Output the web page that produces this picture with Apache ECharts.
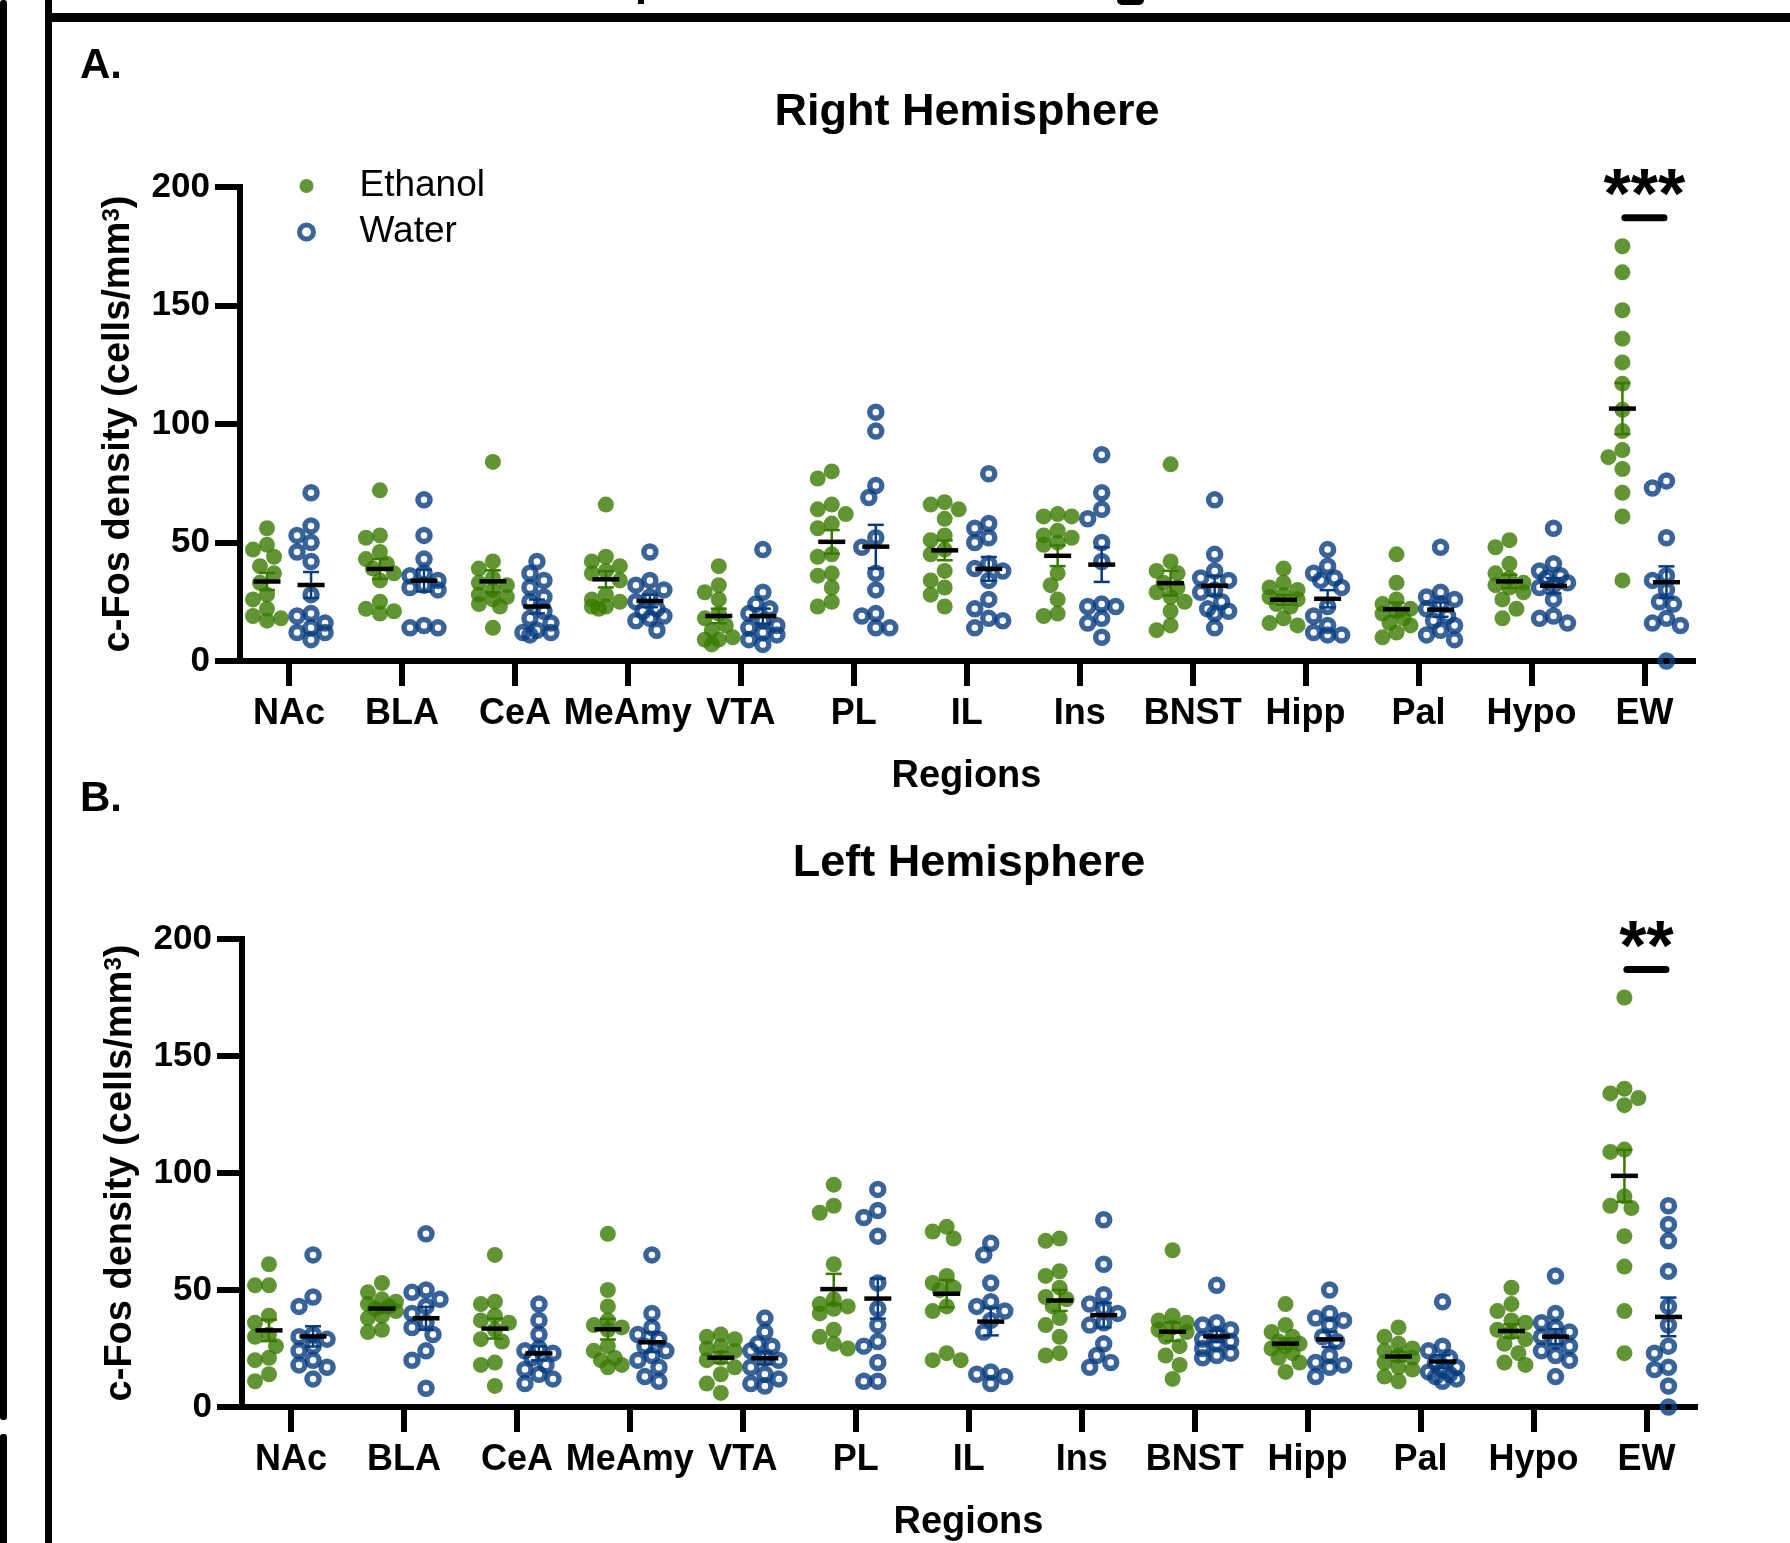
<!DOCTYPE html>
<html>
<head>
<meta charset="utf-8">
<script src="https://cdn.jsdelivr.net/npm/echarts@6/dist/echarts.min.js"></script>
<style>html,body{margin:0;padding:0;background:#fff;}</style>
</head>
<body>
<div id="main" style="width:1790px;height:1543px;"></div>
<script>
// regions on the x axis
var regions = ['NAc', 'BLA', 'CeA', 'MeAmy', 'VTA', 'PL', 'IL', 'Ins', 'BNST', 'Hipp', 'Pal', 'Hypo', 'EW'];

// c-Fos density per animal, right hemisphere
var rightEthanol = [
    [56, 49, 47, 44, 40, 37, 33, 28, 26, 22, 19, 18, 17],
    [72, 53, 52, 46, 43, 41, 39, 37, 34, 25, 22, 21, 20],
    [84, 42, 39, 35, 33, 32, 30, 28, 27, 26, 24, 23, 14],
    [66, 44, 42, 40, 38, 37, 34, 28, 26, 25, 23, 23, 22],
    [40, 32, 29, 26, 20, 18, 15, 13, 10, 9, 9, 7],
    [80, 77, 66, 64, 62, 58, 56, 45, 44, 37, 36, 31, 25, 23],
    [67, 66, 64, 60, 53, 51, 47, 45, 38, 34, 31, 28, 23],
    [62, 61, 61, 55, 53, 52, 50, 49, 37, 32, 26, 20, 19],
    [83, 42, 37, 38, 33, 31, 29, 27, 25, 21, 15, 13],
    [39, 33, 31, 30, 28, 27, 26, 24, 23, 18, 16, 15],
    [45, 33, 26, 24, 22, 21, 20, 18, 16, 15, 12, 10],
    [51, 48, 41, 37, 35, 33, 32, 31, 29, 26, 22, 18],
    [175, 164, 148, 136, 126, 117, 106, 97, 89, 86, 81, 71, 61, 34]
];
var rightWater = [
    [71, 57, 53, 50, 46, 42, 28, 20, 19, 16, 14, 12, 12, 9],
    [68, 53, 43, 37, 36, 34, 32, 31, 30, 15, 14, 14],
    [42, 37, 34, 31, 27, 25, 21, 18, 16, 13, 12, 12, 11],
    [46, 34, 32, 30, 27, 25, 22, 21, 19, 18, 17, 13],
    [47, 29, 24, 22, 20, 17, 15, 14, 12, 11, 9, 7],
    [105, 97, 74, 69, 52, 48, 37, 30, 20, 19, 14, 14],
    [79, 58, 56, 52, 50, 41, 39, 38, 34, 26, 22, 18, 17, 14],
    [87, 71, 64, 60, 50, 42, 24, 23, 23, 18, 16, 10],
    [68, 45, 38, 35, 34, 30, 29, 25, 22, 21, 20, 14],
    [47, 40, 37, 35, 34, 31, 23, 19, 15, 12, 11, 11],
    [48, 29, 27, 26, 24, 22, 19, 17, 15, 13, 11, 9],
    [56, 41, 38, 36, 35, 33, 32, 31, 26, 19, 18, 16],
    [76, 73, 52, 36, 34, 30, 25, 24, 18, 16, 15, 0]
];

// left hemisphere
var leftEthanol = [
    [61, 52, 52, 39, 36, 31, 30, 26, 21, 20, 14, 11],
    [53, 49, 46, 45, 44, 43, 42, 41, 39, 38, 33, 32],
    [65, 45, 44, 39, 37, 36, 33, 29, 28, 19, 18, 9],
    [74, 50, 43, 37, 35, 34, 33, 26, 24, 21, 20, 17, 18],
    [31, 30, 29, 26, 25, 24, 21, 20, 17, 14, 10, 6],
    [95, 86, 83, 61, 46, 44, 43, 42, 40, 33, 30, 27, 25],
    [77, 75, 72, 56, 53, 51, 50, 43, 41, 23, 20, 20],
    [72, 71, 58, 56, 51, 47, 46, 43, 38, 35, 30, 23, 22],
    [67, 39, 37, 36, 34, 33, 32, 30, 26, 22, 18, 12],
    [44, 35, 32, 30, 28, 27, 26, 25, 23, 21, 19, 15],
    [34, 30, 27, 25, 24, 22, 21, 19, 17, 16, 13, 11],
    [51, 44, 41, 37, 36, 33, 32, 29, 27, 23, 19, 18],
    [175, 136, 134, 132, 129, 110, 109, 90, 86, 85, 73, 60, 41, 23]
];
var leftWater = [
    [65, 47, 43, 31, 30, 29, 26, 24, 20, 18, 17, 12],
    [74, 50, 49, 46, 43, 40, 36, 34, 31, 24, 20, 8],
    [44, 37, 31, 25, 24, 23, 21, 18, 16, 14, 12, 10],
    [65, 40, 34, 31, 29, 26, 24, 22, 20, 17, 13, 11],
    [38, 32, 27, 26, 24, 21, 20, 17, 14, 12, 10, 9],
    [93, 84, 81, 73, 53, 42, 35, 28, 26, 19, 11, 11],
    [70, 65, 53, 45, 43, 41, 37, 32, 15, 14, 13, 10],
    [80, 61, 48, 44, 42, 40, 36, 35, 27, 22, 19, 17],
    [52, 36, 35, 33, 31, 29, 28, 27, 25, 23, 22, 21],
    [50, 40, 38, 37, 35, 30, 28, 22, 19, 18, 17, 13],
    [45, 26, 24, 21, 19, 17, 16, 15, 14, 13, 12, 11],
    [56, 40, 36, 34, 32, 30, 28, 26, 24, 22, 20, 13],
    [86, 78, 71, 58, 43, 35, 26, 23, 17, 16, 9, 0]
];

// significance marks (right, left)
var sigLabels = ['***', '**'];
var sigRegion = 'EW';
var sigLevel = 187;

var GREEN = '#3a7a00';
var BLUE = '#083c80';
var FONT = 'Liberation Sans, Arial, Helvetica, sans-serif';
var XMIN = -0.434, XMAX = 12.43, SIDE = 0.195;
var grids = [
    {left: 240, top: 187, width: 1453, height: 474},
    {left: 242, top: 939, width: 1453, height: 474}
];
var pxX = 1453 / (XMAX - XMIN);
var pxY = 474 / 200;

// spread overlapping dots sideways like a scatter dot plot
function swarm(vals) {
    var placed = [], res = [];
    var order = vals.map(function (v, i) { return i; }).sort(function (a, b) { return vals[b] - vals[a]; });
    var step = 7, minD = 13;
    var cands = [0, -step, step, -2 * step, 2 * step];
    order.forEach(function (i) {
        var y = vals[i] * pxY, best = 0, bestD = -1;
        for (var k = 0; k < cands.length; k++) {
            var d = Infinity;
            placed.forEach(function (p) {
                var dd = Math.sqrt((p.x - cands[k]) * (p.x - cands[k]) + (p.y - y) * (p.y - y));
                if (dd < d) d = dd;
            });
            if (d >= minD) { best = cands[k]; break; }
            if (d > bestD) { bestD = d; best = cands[k]; }
        }
        placed.push({x: best, y: y});
        res[i] = best;
    });
    return res;
}

function meanSem(vals) {
    var n = vals.length, sum = 0, ss = 0;
    vals.forEach(function (v) { sum += v; });
    var m = sum / n;
    vals.forEach(function (v) { ss += (v - m) * (v - m); });
    return [m, Math.sqrt(ss / (n - 1)) / Math.sqrt(n)];
}

function dots(groups, side) {
    var out = [];
    groups.forEach(function (vals, i) {
        var off = swarm(vals);
        vals.forEach(function (v, j) {
            out.push([i + side + off[j] / pxX, v]);
        });
    });
    return out;
}

function summary(groups, side) {
    return groups.map(function (vals, i) {
        var s = meanSem(vals);
        return [i + side, s[0], s[1]];
    });
}

function statsRender(color) {
    return function (params, api) {
        var x = api.value(0), m = api.value(1), s = api.value(2);
        var c = api.coord([x, m]);
        var hi = api.coord([x, m + s])[1], lo = api.coord([x, m - s])[1];
        return {
            type: 'group',
            children: [
                {type: 'line', shape: {x1: c[0], y1: hi, x2: c[0], y2: lo}, style: {stroke: color, lineWidth: 2.5}},
                {type: 'line', shape: {x1: c[0] - 8, y1: hi, x2: c[0] + 8, y2: hi}, style: {stroke: color, lineWidth: 2.5}},
                {type: 'line', shape: {x1: c[0] - 8, y1: lo, x2: c[0] + 8, y2: lo}, style: {stroke: color, lineWidth: 2.5}},
                {type: 'line', shape: {x1: c[0] - 13.5, y1: c[1], x2: c[0] + 13.5, y2: c[1]}, style: {stroke: '#000', lineWidth: 4.5}}
            ]
        };
    };
}

function sigRender(label) {
    return function (params, api) {
        var x = api.value(0), lvl = api.value(1);
        var a = api.coord([x - 0.173, lvl]), b = api.coord([x + 0.173, lvl]);
        return {
            type: 'group',
            children: [
                {type: 'line', shape: {x1: a[0], y1: a[1], x2: b[0], y2: b[1]},
                 style: {stroke: '#000', lineWidth: 7, lineCap: 'round'}},
                {type: 'text', x: (a[0] + b[0]) / 2, y: a[1] - 19,
                 style: {text: label, fill: '#000', font: 'bold 70px ' + FONT, align: 'center', verticalAlign: 'middle'}}
            ]
        };
    };
}

var xAxes = [], yAxes = [], series = [];
[[rightEthanol, rightWater], [leftEthanol, leftWater]].forEach(function (pair, p) {
    xAxes.push({
        type: 'value', gridIndex: p, min: XMIN, max: XMAX,
        name: 'Regions', nameLocation: 'middle', nameGap: 97,
        nameTextStyle: {fontSize: 38, fontWeight: 'bold', color: '#000', fontFamily: FONT},
        axisLine: {onZero: false, lineStyle: {color: '#000', width: 6, cap: 'square'}},
        axisTick: {length: 25, lineStyle: {color: '#000', width: 6}, customValues: regions.map(function (r, i) { return i; })},
        axisLabel: {
            customValues: regions.map(function (r, i) { return i; }),
            formatter: function (v) { return regions[Math.round(v)]; },
            margin: 35, fontSize: 36, fontWeight: 'bold', color: '#000', fontFamily: FONT
        },
        splitLine: {show: false}
    });
    yAxes.push({
        type: 'value', gridIndex: p, min: 0, max: 200, interval: 50,
        name: 'c-Fos density (cells/mm{sup|3})', nameLocation: 'middle', nameGap: 102,
        nameTextStyle: {
            fontSize: 38, fontWeight: 'bold', color: '#000', fontFamily: FONT,
            rich: {sup: {fontSize: 24, fontWeight: 'bold', color: '#000', fontFamily: FONT, verticalAlign: 'top'}}
        },
        axisLine: {show: true, onZero: false, lineStyle: {color: '#000', width: 6, cap: 'square'}},
        axisTick: {show: true, length: 25, lineStyle: {color: '#000', width: 6}},
        axisLabel: {margin: 30, fontSize: 35, fontWeight: 'bold', color: '#000', fontFamily: FONT},
        splitLine: {show: false}
    });
    series.push({
        name: 'Ethanol', type: 'scatter', xAxisIndex: p, yAxisIndex: p, clip: false,
        symbol: 'circle', symbolSize: 16,
        itemStyle: {color: GREEN},
        data: dots(pair[0], -SIDE), z: 2
    });
    series.push({
        name: 'Water', type: 'scatter', xAxisIndex: p, yAxisIndex: p, clip: false,
        symbol: 'circle', symbolSize: 12,
        itemStyle: {color: 'rgba(255,255,255,0)', borderColor: BLUE, borderWidth: 5.5},
        data: dots(pair[1], SIDE), z: 2
    });
    series.push({
        type: 'custom', xAxisIndex: p, yAxisIndex: p, z: 3,
        renderItem: statsRender(GREEN), data: summary(pair[0], -SIDE)
    });
    series.push({
        type: 'custom', xAxisIndex: p, yAxisIndex: p, z: 3,
        renderItem: statsRender(BLUE), data: summary(pair[1], SIDE)
    });
    series.push({
        type: 'custom', xAxisIndex: p, yAxisIndex: p, z: 3, clip: false,
        renderItem: sigRender(sigLabels[p]), data: [[regions.indexOf(sigRegion), sigLevel]]
    });
});

var myChart = echarts.init(document.getElementById('main'));
var option = {
    animation: false,
    backgroundColor: '#fff',
    textStyle: {fontFamily: FONT},
    grid: grids,
    xAxis: xAxes,
    yAxis: yAxes,
    legend: {
        data: [
            {name: 'Ethanol', icon: 'circle', itemStyle: {color: GREEN, borderWidth: 0}},
            {name: 'Water', icon: 'circle', itemStyle: {color: 'rgba(255,255,255,0)', borderColor: BLUE, borderWidth: 5}}
        ],
        orient: 'vertical', left: 292, top: 161,
        itemWidth: 14, itemHeight: 14, itemGap: 6,
        selectedMode: false,
        textStyle: {fontSize: 37, lineHeight: 40, color: '#000', fontFamily: FONT, padding: [0, 0, 0, 41]}
    },
    graphic: [
        // frame lines of the cropped figure
        {type: 'rect', shape: {x: 0, y: 0, width: 7, height: 1420, r: 3}, style: {fill: '#000'}},
        {type: 'rect', shape: {x: 0, y: 1434, width: 7, height: 120, r: 3}, style: {fill: '#000'}},
        {type: 'rect', shape: {x: 45, y: 0, width: 7, height: 1543}, style: {fill: '#000'}},
        {type: 'rect', shape: {x: 45, y: 13, width: 1745, height: 9}, style: {fill: '#000'}},
        {type: 'rect', shape: {x: 638, y: 0, width: 6, height: 4}, style: {fill: '#000'}},
        {type: 'rect', shape: {x: 1117, y: 0, width: 27, height: 5, r: [0, 0, 8, 8]}, style: {fill: '#000'}},
        {type: 'text', x: 80, y: 66, style: {text: 'A.', font: 'bold 42px ' + FONT, fill: '#000', verticalAlign: 'middle'}},
        {type: 'text', x: 80, y: 799, style: {text: 'B.', font: 'bold 42px ' + FONT, fill: '#000', verticalAlign: 'middle'}},
        {type: 'text', x: 967, y: 113, style: {text: 'Right Hemisphere', font: 'bold 45px ' + FONT, fill: '#000', align: 'center', verticalAlign: 'middle'}},
        {type: 'text', x: 969, y: 864, style: {text: 'Left Hemisphere', font: 'bold 45px ' + FONT, fill: '#000', align: 'center', verticalAlign: 'middle'}}
    ],
    series: series
};
myChart.setOption(option);
</script>
</body>
</html>
